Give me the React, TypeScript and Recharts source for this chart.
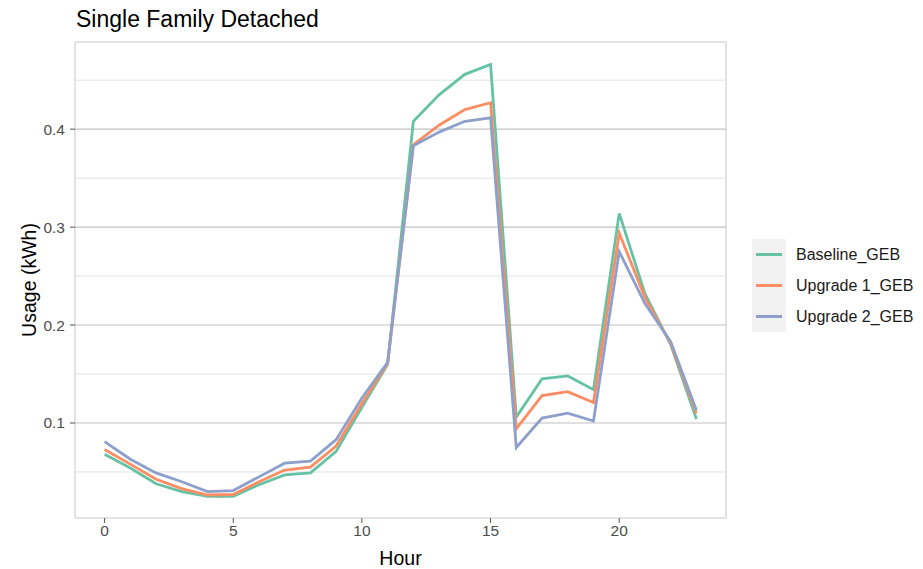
import React from "react";
import { LineChart, Line, XAxis, YAxis, ReferenceLine, ReferenceArea } from "recharts";

const hours = [0, 1, 2, 3, 4, 5, 6, 7, 8, 9, 10, 11, 12, 13, 14, 15, 16, 17, 18, 19, 20, 21, 22, 23];
const baselineGEB = [0.068, 0.054, 0.038, 0.030, 0.025, 0.025, 0.037, 0.047, 0.049, 0.071, 0.116, 0.160, 0.408, 0.435, 0.456, 0.466, 0.106, 0.145, 0.148, 0.134, 0.314, 0.232, 0.180, 0.104];
const upgrade1GEB = [0.073, 0.058, 0.0425, 0.033, 0.0265, 0.027, 0.040, 0.052, 0.055, 0.0765, 0.120, 0.161, 0.384, 0.404, 0.420, 0.427, 0.094, 0.128, 0.132, 0.121, 0.294, 0.228, 0.181, 0.110];
const upgrade2GEB = [0.081, 0.063, 0.049, 0.040, 0.030, 0.031, 0.045, 0.059, 0.061, 0.083, 0.1255, 0.162, 0.383, 0.397, 0.408, 0.4115, 0.075, 0.105, 0.110, 0.102, 0.275, 0.222, 0.183, 0.113];

const seriesNames = ["Baseline_GEB", "Upgrade 1_GEB", "Upgrade 2_GEB"];
const seriesColors = ["#66C2A5", "#FC8D62", "#8DA0CB"];
const xTicks = [0, 5, 10, 15, 20];
const yMajor = [0.1, 0.2, 0.3, 0.4];
const yMinor = [0.05, 0.15, 0.25, 0.35, 0.45];
const xDomain = [-1.15, 24.15];
const yDomain = [0.003, 0.489];

const data = hours.map((h, i) => ({
  hour: h,
  Baseline_GEB: baselineGEB[i],
  "Upgrade 1_GEB": upgrade1GEB[i],
  "Upgrade 2_GEB": upgrade2GEB[i],
}));

const FONT = "'Liberation Sans', Arial, sans-serif";

const LegendBox = () => (
  <div style={{ position: "absolute", left: 752, top: 239, fontFamily: FONT }}>
    <div style={{ background: "#f2f2f2", width: 34, position: "absolute", left: 0, top: 0, height: 93 }} />
    {seriesNames.map((n, i) => (
      <div key={n} style={{ position: "relative", height: 31, display: "flex", alignItems: "center" }}>
        <div style={{ width: 26, height: 3, background: seriesColors[i], marginLeft: 4 }} />
        <span style={{ marginLeft: 14, fontSize: 16, color: "#1a1a1a", whiteSpace: "nowrap" }}>{n}</span>
      </div>
    ))}
  </div>
);

export default function App() {
  return (
    <div style={{ position: "absolute", left: 0, top: 0, width: 923, height: 569, background: "#fff" }}>
      <div style={{ position: "absolute", left: 76, top: 4, fontFamily: FONT, fontSize: 23, color: "#000", lineHeight: "30px" }}>
        Single Family Detached
      </div>
      <LineChart width={923} height={569} data={data} margin={{ top: 42, right: 197, bottom: 0, left: 0 }}>
        <ReferenceArea x1={xDomain[0]} x2={xDomain[1]} y1={yDomain[0]} y2={yDomain[1]} fill="#fff" stroke="#c8c8c8" strokeWidth={1} ifOverflow="visible" />
        {yMinor.map((v) => (
          <ReferenceLine key={"mn" + v} y={v} stroke="#dcdcdc" strokeWidth={0.8} />
        ))}
        {yMajor.map((v) => (
          <ReferenceLine key={"mj" + v} y={v} stroke="#c2c2c2" strokeWidth={1.1} />
        ))}
        <XAxis
          dataKey="hour"
          type="number"
          domain={xDomain}
          ticks={xTicks}
          allowDataOverflow
          height={51}
          axisLine={false}
          tickLine={{ stroke: "#555" }}
          tickSize={5}
          tickMargin={2}
          tick={{ fill: "#4d4d4d", fontSize: 15.5, fontFamily: FONT }}
          label={{ value: "Hour", position: "insideBottom", offset: 4, fill: "#000", fontSize: 19.5, fontFamily: FONT }}
        />
        <YAxis
          type="number"
          domain={yDomain}
          ticks={yMajor}
          allowDataOverflow
          width={75}
          axisLine={false}
          tickLine={{ stroke: "#555" }}
          tickSize={5}
          tickMargin={5}
          tick={{ fill: "#4d4d4d", fontSize: 15.5, fontFamily: FONT }}
          label={{ value: "Usage (kWh)", angle: -90, position: "insideLeft", offset: 29, fill: "#000", fontSize: 19.5, fontFamily: FONT, style: { textAnchor: "middle" } }}
        />
        {seriesNames.map((n, i) => (
          <Line key={n} type="linear" dataKey={n} stroke={seriesColors[i]} strokeWidth={2.8} dot={false} isAnimationActive={false} />
        ))}
      </LineChart>
      <LegendBox />
    </div>
  );
}
